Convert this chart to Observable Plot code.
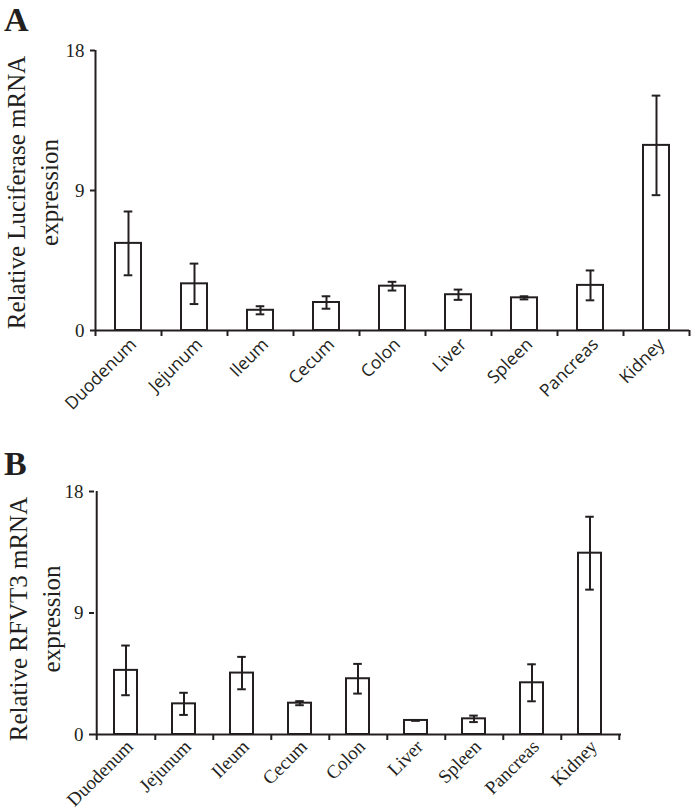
<!DOCTYPE html>
<html>
<head>
<meta charset="utf-8">
<script src="https://cdn.jsdelivr.net/npm/d3@7"></script>
<script src="https://cdn.jsdelivr.net/npm/@observablehq/plot@0.6"></script>
<style>
  html, body { margin: 0; padding: 0; background: #fff; }
  #root { position: relative; width: 691px; height: 812px; overflow: hidden; }
  .panel { position: absolute; left: 0; }
  .letter { position: absolute; left: 4px; font-family: "Liberation Serif", serif; font-weight: bold; font-size: 34px; line-height: 1; color: #231f20; }
</style>
</head>
<body>
<div id="root"></div>
<script>
// ---- data ----
const tissues = ["Duodenum", "Jejunum", "Ileum", "Cecum", "Colon", "Liver", "Spleen", "Pancreas", "Kidney"];
const lucMean = [5.6, 3.0, 1.3, 1.8, 2.85, 2.3, 2.1, 2.9, 11.9];
const lucErr  = [2.05, 1.3, 0.26, 0.4, 0.28, 0.33, 0.1, 0.96, 3.2];
const rfvtMean = [4.75, 2.27, 4.55, 2.32, 4.13, 1.04, 1.16, 3.83, 13.43];
const rfvtErr  = [1.84, 0.82, 1.2, 0.15, 1.1, 0.03, 0.24, 1.37, 2.7];
const yTicks = [0, 9, 18];
const panelLetters = ["A", "B"];
const yTitles = ["Relative Luciferase mRNA\nexpression", "Relative RFVT3 mRNA\nexpression"];

const INK = "#231f20";
const SERIF = "'Liberation Serif', 'Times New Roman', serif";
const SANS = "'Open Sans', sans-serif";

function panel(opts) {
  const {means, errs, title, top, height, mt, mb, ml, mr, labelFont, labelSize, labelDx, labelDy, titleDx, titleDy, capW} = opts;
  const rows = tissues.map((t, i) => ({tissue: t, mean: means[i], err: errs[i]}));
  const width = 691;
  const plotH = height - mt - mb;
  const step = (width - ml - mr) / tissues.length;
  const bandW = step * 0.4;
  const capInset = (bandW - capW) / 2;
  const chart = Plot.plot({
    width, height,
    marginTop: mt, marginBottom: mb, marginLeft: ml, marginRight: mr,
    style: {background: "transparent", overflow: "visible", color: INK},
    x: {domain: tissues, paddingInner: 0.6, paddingOuter: 0.3, label: null},
    y: {domain: [0, 18], label: null},
    marks: [
      Plot.barY(rows, {x: "tissue", y: "mean", fill: "white", stroke: INK, strokeWidth: 2}),
      Plot.ruleX(rows, {x: "tissue", y1: d => d.mean - d.err, y2: d => d.mean + d.err, stroke: INK, strokeWidth: 2}),
      Plot.tickY(rows, {x: "tissue", y: d => d.mean + d.err, stroke: INK, strokeWidth: 2, insetLeft: capInset, insetRight: capInset}),
      Plot.tickY(rows, {x: "tissue", y: d => d.mean - d.err, stroke: INK, strokeWidth: 2, insetLeft: capInset, insetRight: capInset}),
      Plot.ruleY([0], {stroke: INK, strokeWidth: 2}),
      // category boundary ticks
      Plot.tickX(tissues, {x: d => d, dx: step / 2, insetTop: plotH, insetBottom: -6, stroke: INK, strokeWidth: 2}),
      // left axis line (extends to first boundary tick)
      Plot.tickX(tissues.slice(0, 1), {x: d => d, dx: -step / 2, insetBottom: -6, stroke: INK, strokeWidth: 2}),
      Plot.axisY({ticks: yTicks, tickSize: 5, tickPadding: 6, fontSize: 19, fontFamily: SERIF, strokeWidth: 2, stroke: INK, fill: INK, label: null}),
      Plot.axisX({tickSize: 0, tickRotate: -45, tickPadding: 6, dx: labelDx, dy: labelDy, fontSize: labelSize, fontFamily: labelFont, fill: INK, label: null}),
      Plot.text([title], {text: d => d, frameAnchor: "left", rotate: -90, dx: titleDx, dy: titleDy, lineAnchor: "middle", textAnchor: "middle", lineHeight: 1.32, fontSize: 25, fontFamily: SERIF, fill: INK})
    ]
  });
  chart.classList.add("panel");
  chart.style.top = top + "px";
  return chart;
}

const root = document.getElementById("root");
root.appendChild(panel({means: lucMean, errs: lucErr, title: yTitles[0], top: 0, height: 400, mt: 50, mb: 70, ml: 95, mr: 2, labelFont: SANS, labelSize: 17.5, labelDx: 5, labelDy: 5, titleDx: -65, titleDy: 2, capW: 9}));
root.appendChild(panel({means: rfvtMean, errs: rfvtErr, title: yTitles[1], top: 410, height: 402, mt: 81, mb: 78, ml: 94, mr: 70, labelFont: SERIF, labelSize: 19, labelDx: 4, labelDy: 3, titleDx: -62, titleDy: 6, capW: 9}));

[[panelLetters[0], 3], [panelLetters[1], 447]].forEach(([t, y]) => {
  const d = document.createElement("div");
  d.className = "letter";
  d.style.top = y + "px";
  d.textContent = t;
  root.appendChild(d);
});
</script>
</body>
</html>
